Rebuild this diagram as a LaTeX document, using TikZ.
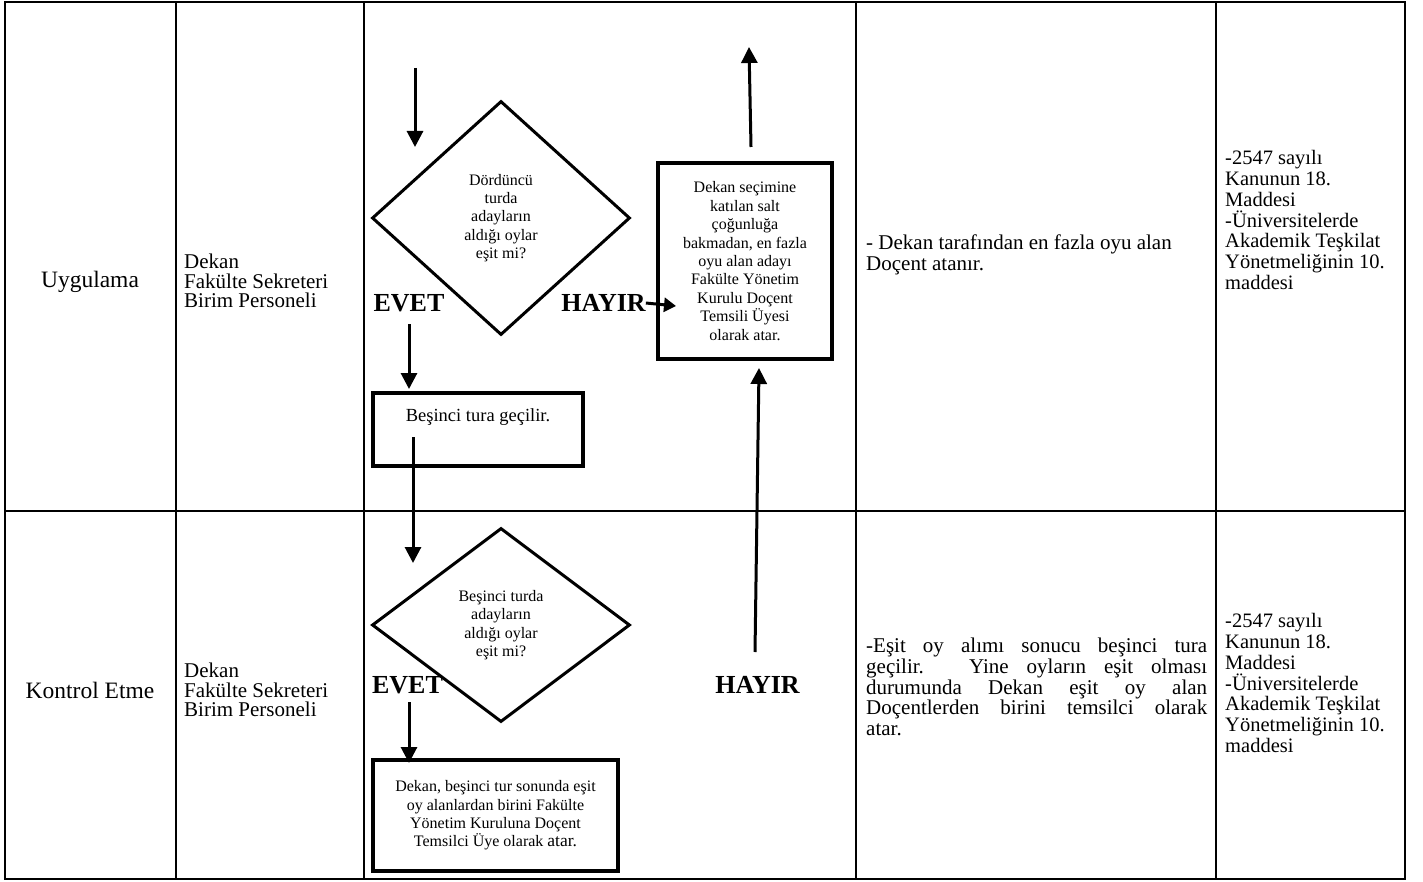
\documentclass[tikz,border=0pt]{standalone}
\usepackage{fontspec}
\setmainfont{Liberation Serif}
\usetikzlibrary{shapes.geometric,arrows.meta}
\begin{document}
\begin{tikzpicture}[x=1pt,y=-1pt,
  grid/.style={line width=2pt},
  coltext/.style={font=\fontsize{21}{20.8}\selectfont, inner sep=0pt, align=left, anchor=west},
  roletext/.style={coltext, font=\fontsize{21}{19.5}\selectfont},
  phasetext/.style={font=\fontsize{23.5}{26}\selectfont, inner sep=0pt},
  flowtext/.style={font=\fontsize{16}{18.4}\selectfont},
  decision/.style={draw, diamond, line width=3pt, inner sep=0pt, align=center, flowtext},
  procbox/.style={draw, rectangle, line width=3.5pt, inner sep=0pt, align=center, flowtext},
  yesno/.style={font=\fontsize{26}{30}\selectfont\bfseries, inner sep=0pt},
  arr/.style={line width=3pt, -{Triangle[width=16pt,length=16pt]}},
  sarr/.style={line width=3pt, -{Triangle[width=14pt,length=12pt]}},
]
\useasboundingbox (0,0) rectangle (1423,882);
% table grid
\draw[grid] (5,2) rectangle (1405,879);
\foreach \x in {176,364,856,1216} \draw[grid] (\x,2) -- (\x,879);
\draw[grid] (5,511) -- (1405,511);

% column texts
\node[phasetext] (r1) at (90,282) {Uygulama};
\node[roletext] (p1) at (184,281) {Dekan\\Fakülte Sekreteri\\Birim Personeli};
\node[coltext] (x1) at (866,255) {- Dekan tarafından en fazla oyu alan\\Doçent atanır.};
\node[coltext, font=\fontsize{20.5}{20.8}\selectfont] (l1) at (1225,220) {-2547 sayılı\\Kanunun 18.\\Maddesi\\-Üniversitelerde\\Akademik Teşkilat\\Yönetmeliğinin 10.\\maddesi};
\node[phasetext] (r2) at (90,690) {Kontrol Etme};
\node[roletext] (p2) at (184,690) {Dekan\\Fakülte Sekreteri\\Birim Personeli};
\node[coltext, text width=341pt, align=justify] (x2) at (866,687) {-Eşit oy alımı sonucu beşinci tura\linebreak geçilir. Yine oyların eşit olması\linebreak durumunda Dekan eşit oy alan\linebreak Doçentlerden birini temsilci olarak\linebreak atar.};
\node[coltext, font=\fontsize{20.5}{20.8}\selectfont] (l2) at (1225,683) {-2547 sayılı\\Kanunun 18.\\Maddesi\\-Üniversitelerde\\Akademik Teşkilat\\Yönetmeliğinin 10.\\maddesi};

% flowchart shapes
\node[decision, minimum width=258pt, minimum height=234pt] (d1) at (501,218) {Dördüncü\\turda\\adayların\\aldığı oylar\\eşit mi?};
\node[procbox, minimum width=174pt, minimum height=196pt] (b1) at (745,261) {Dekan seçimine\\katılan salt\\çoğunluğa\\bakmadan, en fazla\\oyu alan adayı\\Fakülte Yönetim\\Kurulu Doçent\\Temsili Üyesi\\olarak atar.};
\node[procbox, minimum width=210pt, minimum height=73pt] (b2) at (478,429.5) {};
\node[inner sep=0pt, font=\fontsize{18.5}{20}\selectfont] (b2t) at (478,417) {Beşinci tura geçilir.};
\node[decision, minimum width=258pt, minimum height=194pt] (d2) at (501,625) {Beşinci turda\\adayların\\aldığı oylar\\eşit mi?};
\node[procbox, minimum width=245pt, minimum height=111pt] (b3) at (495.5,815.5) {Dekan, beşinci tur sonunda eşit\\oy alanlardan birini Fakülte\\Yönetim Kuruluna Doçent\\Temsilci Üye olarak {\fontsize{17.5}{18.4}\selectfont atar.}};

% yes / no labels
\node[yesno] (ev1) at (409,303) {EVET};
\node[yesno] (hy1) at (603.5,303) {HAYIR};
\node[yesno] (ev2) at (407.5,685) {EVET};
\node[yesno] (hy2) at (757.5,685) {HAYIR};

% connector end points
\coordinate (a1s) at (415,68);
\coordinate (a1e) at (415,147);
\coordinate (upS) at (751,147);
\coordinate (upE) at (749,47);
\coordinate (hyT) at (676,306);
\coordinate (ev1s) at (409,324);
\coordinate (ev1e) at (409,389);
\coordinate (b2s) at (413,437);
\coordinate (b2e) at (413,563);
\coordinate (hy2s) at (755,652);
\coordinate (hy2e) at (759,368);
\coordinate (ev2s) at (409,702);
\coordinate (ev2e) at (409,763);

% connectors
\draw[arr] (a1s) -- (a1e);
\draw[arr] (upS) -- (upE);
\draw[sarr] (hy1.east) -- (hyT);
\draw[arr] (ev1s) -- (ev1e);
\draw[arr] (b2s) -- (b2e);
\draw[arr] (hy2s) -- (hy2e);
\draw[arr] (ev2s) -- (ev2e);
\end{tikzpicture}
\end{document}
